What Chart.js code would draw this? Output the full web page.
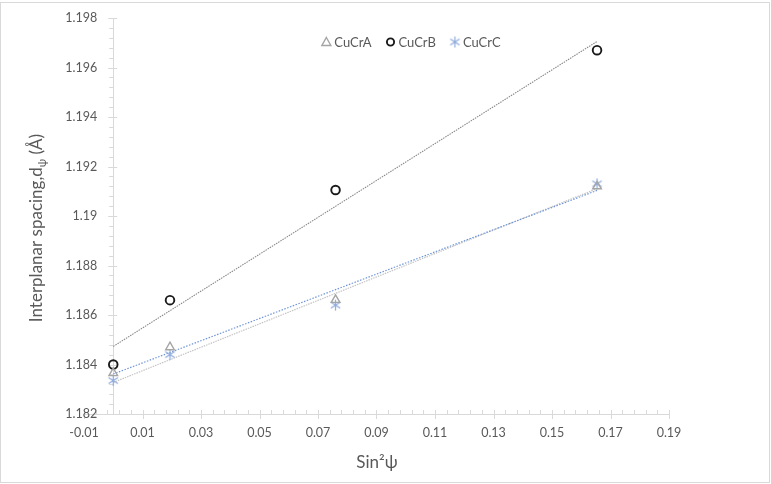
<!DOCTYPE html>
<html>
<head>
<meta charset="utf-8">
<script src="https://cdn.jsdelivr.net/npm/chart.js@4.4.1/dist/chart.umd.min.js"></script>
<style>
  html, body { margin: 0; padding: 0; background: #fff; }
  canvas { display: block; }
</style>
</head>
<body>
<canvas id="chart" width="771" height="484"></canvas>
<script>
// Data
const sin2psi = [0, 0.0194, 0.076, 0.1654];
const cucrA = [1.18365, 1.1847, 1.18661, 1.1912];
const cucrB = [1.1840, 1.1866, 1.19105, 1.1967];
const cucrC = [1.18335, 1.1844, 1.1864, 1.1913];
const seriesNames = ['CuCrA', 'CuCrB', 'CuCrC'];

const xTickValues = [-0.01, 0.01, 0.03, 0.05, 0.07, 0.09, 0.11, 0.13, 0.15, 0.17, 0.19];
const xTickLabels = ['-0.01', '0.01', '0.03', '0.05', '0.07', '0.09', '0.11', '0.13', '0.15', '0.17', '0.19'];
const yTickValues = [1.182, 1.184, 1.186, 1.188, 1.19, 1.192, 1.194, 1.196, 1.198];
const yTickLabels = ['1.182', '1.184', '1.186', '1.188', '1.19', '1.192', '1.194', '1.196', '1.198'];

const FONT = 'Lato, "Open Sans", sans-serif';
const AXIS_COLOR = '#d9d9d9';
const LABEL_COLOR = '#595959';

// Least squares trendline over the data range (like Excel's linear trendline)
function trendline(xs, ys) {
  const n = xs.length;
  const mx = xs.reduce((s, v) => s + v, 0) / n;
  const my = ys.reduce((s, v) => s + v, 0) / n;
  let sxy = 0, sxx = 0;
  for (let i = 0; i < n; i++) {
    sxy += (xs[i] - mx) * (ys[i] - my);
    sxx += (xs[i] - mx) * (xs[i] - mx);
  }
  const slope = sxy / sxx;
  const b = my - slope * mx;
  const x0 = Math.min(...xs), x1 = Math.max(...xs);
  return [{ x: x0, y: b + slope * x0 }, { x: x1, y: b + slope * x1 }];
}

function toPoints(xs, ys) {
  return xs.map((x, i) => ({ x, y: ys[i] }));
}

// Asterisk marker for CuCrC
function makeStar(color) {
  const c = document.createElement('canvas');
  c.width = 13; c.height = 13;
  const g = c.getContext('2d');
  g.strokeStyle = color;
  g.lineWidth = 1.2;
  g.beginPath();
  g.moveTo(6.5, 1); g.lineTo(6.5, 12);
  g.moveTo(1.8, 3.5); g.lineTo(11.2, 9.5);
  g.moveTo(11.2, 3.5); g.lineTo(1.8, 9.5);
  g.stroke();
  return c;
}
const starImg = makeStar('#8eaadb');

const markerStyles = [
  { pointStyle: 'triangle', pointRadius: 5, borderColor: '#a5a5a5', borderWidth: 1.4 },
  { pointStyle: 'circle', pointRadius: 4.3, borderColor: '#1a1a1a', borderWidth: 1.9 },
  { pointStyle: starImg, pointRadius: 6, borderColor: '#8eaadb', borderWidth: 1.2 }
];

// Axes, ticks, titles and legend drawn on the library's scales
const axesPlugin = {
  id: 'excelAxes',
  beforeDatasetsDraw(chart) {
    const { ctx, scales: { x, y } } = chart;
    const x0 = x.getPixelForValue(0);
    const yBase = y.getPixelForValue(yTickValues[0]);
    ctx.save();
    ctx.strokeStyle = AXIS_COLOR;
    ctx.lineWidth = 1;

    // axis lines
    ctx.beginPath();
    ctx.moveTo(x.left, Math.round(yBase) + 0.5);
    ctx.lineTo(x.right, Math.round(yBase) + 0.5);
    ctx.moveTo(Math.round(x0) + 0.5, y.top);
    ctx.lineTo(Math.round(x0) + 0.5, yBase);
    ctx.stroke();

    // x ticks
    ctx.beginPath();
    xTickValues.forEach((v, i) => {
      const px = Math.round(x.getPixelForValue(v)) + 0.5;
      ctx.moveTo(px, yBase - 4);
      ctx.lineTo(px, yBase + 5);
      if (i < xTickValues.length - 1) {
        const step = (xTickValues[i + 1] - v) / 5;
        for (let k = 1; k < 5; k++) {
          const mp = Math.round(x.getPixelForValue(v + k * step)) + 0.5;
          ctx.moveTo(mp, yBase - 4);
          ctx.lineTo(mp, yBase);
        }
      }
    });
    // y ticks
    yTickValues.forEach((v, i) => {
      const py = Math.round(y.getPixelForValue(v)) + 0.5;
      ctx.moveTo(x0 - 5, py);
      ctx.lineTo(x0 + 4, py);
      if (i < yTickValues.length - 1) {
        const step = (yTickValues[i + 1] - v) / 5;
        for (let k = 1; k < 5; k++) {
          const mp = Math.round(y.getPixelForValue(v + k * step)) + 0.5;
          ctx.moveTo(x0 - 4, mp);
          ctx.lineTo(x0, mp);
        }
      }
    });
    ctx.stroke();

    // tick labels
    ctx.fillStyle = LABEL_COLOR;
    ctx.font = '12.5px ' + FONT;
    ctx.textAlign = 'center';
    ctx.textBaseline = 'middle';
    xTickValues.forEach((v, i) => {
      ctx.fillText(xTickLabels[i], x.getPixelForValue(v), yBase + 19);
    });
    ctx.textAlign = 'right';
    yTickValues.forEach((v, i) => {
      ctx.fillText(yTickLabels[i], x0 - 16, y.getPixelForValue(v));
    });
    ctx.restore();
  },
  afterDraw(chart) {
    const { ctx } = chart;
    ctx.save();
    // outer border
    ctx.strokeStyle = AXIS_COLOR;
    ctx.lineWidth = 1;
    ctx.strokeRect(0.5, 2.5, 769, 480);

    ctx.fillStyle = LABEL_COLOR;
    ctx.textBaseline = 'alphabetic';

    // x title: Sin²ψ
    ctx.font = '17px ' + FONT;
    ctx.textAlign = 'center';
    ctx.fillText('Sin\u00B2\u03C8', 377, 468);

    // y title: Interplanar spacing,dψ (Å) with subscript ψ
    ctx.translate(42, 228);
    ctx.rotate(-Math.PI / 2);
    const mainFont = '17px ' + FONT;
    const subFont = '11px ' + FONT;
    const partA = 'Interplanar spacing,d';
    const partSub = '\u03C8';
    const partB = ' (\u00C5)';
    ctx.font = mainFont;
    const wA = ctx.measureText(partA).width;
    const wB = ctx.measureText(partB).width;
    ctx.font = subFont;
    const wS = ctx.measureText(partSub).width;
    let start = -(wA + wS + wB) / 2;
    ctx.textAlign = 'left';
    ctx.font = mainFont;
    ctx.fillText(partA, start, 0);
    ctx.font = subFont;
    ctx.fillText(partSub, start + wA, 4);
    ctx.font = mainFont;
    ctx.fillText(partB, start + wA + wS, 0);
    ctx.setTransform(1, 0, 0, 1, 0, 0);

    // legend
    ctx.font = '13px ' + FONT;
    ctx.textBaseline = 'middle';
    const ly = 42;
    const markerW = 10, gap = 3, spacing = 14;
    const widths = seriesNames.map(n => ctx.measureText(n).width);
    const total = widths.reduce((s, w) => s + w + markerW + gap, 0) + spacing * (seriesNames.length - 1);
    let lx = 411 - total / 2;
    seriesNames.forEach((name, i) => {
      const st = markerStyles[i];
      const cx = lx + markerW / 2;
      ctx.strokeStyle = st.borderColor;
      ctx.lineWidth = st.borderWidth;
      if (st.pointStyle === 'triangle') {
        ctx.beginPath();
        ctx.moveTo(cx, ly - 4.5);
        ctx.lineTo(cx + 4.5, ly + 3.5);
        ctx.lineTo(cx - 4.5, ly + 3.5);
        ctx.closePath();
        ctx.stroke();
      } else if (st.pointStyle === 'circle') {
        ctx.beginPath();
        ctx.arc(cx, ly, 3.6, 0, Math.PI * 2);
        ctx.stroke();
      } else {
        ctx.drawImage(st.pointStyle, cx - 6.5, ly - 6.5);
      }
      ctx.fillStyle = LABEL_COLOR;
      ctx.textAlign = 'left';
      ctx.fillText(name, lx + markerW + gap, ly + 1);
      lx += markerW + gap + widths[i] + spacing;
    });
    ctx.restore();
  }
};

const datasets = [
  { label: seriesNames[0], data: toPoints(sin2psi, cucrA), showLine: false, backgroundColor: 'rgba(0,0,0,0)', order: 1, ...markerStyles[0] },
  { label: seriesNames[1], data: toPoints(sin2psi, cucrB), showLine: false, backgroundColor: 'rgba(0,0,0,0)', order: 1, ...markerStyles[1] },
  { label: seriesNames[2], data: toPoints(sin2psi, cucrC), showLine: false, backgroundColor: 'rgba(0,0,0,0)', order: 1, ...markerStyles[2] },
  { label: 'Linear (CuCrA)', data: trendline(sin2psi, cucrA), showLine: true, pointRadius: 0, borderColor: '#6f95d8', borderWidth: 1.2, borderDash: [1.5, 1.5], order: 2 },
  { label: 'Linear (CuCrB)', data: trendline(sin2psi, cucrB), showLine: true, pointRadius: 0, borderColor: '#8a8a8a', borderWidth: 1.1, borderDash: [1.5, 1], order: 2 },
  { label: 'Linear (CuCrC)', data: trendline(sin2psi, cucrC), showLine: true, pointRadius: 0, borderColor: '#c4c4c4', borderWidth: 1.2, borderDash: [1.5, 1], order: 2 }
];

new Chart(document.getElementById('chart'), {
  type: 'scatter',
  data: { datasets },
  options: {
    responsive: false,
    animation: false,
    devicePixelRatio: 1,
    layout: { padding: { left: 84, right: 102, top: 18, bottom: 70 } },
    plugins: { legend: { display: false }, tooltip: { enabled: false } },
    scales: {
      x: { type: 'linear', min: -0.01, max: 0.19, display: false },
      y: { type: 'linear', min: 1.182, max: 1.198, display: false }
    }
  },
  plugins: [axesPlugin]
});
</script>
</body>
</html>
